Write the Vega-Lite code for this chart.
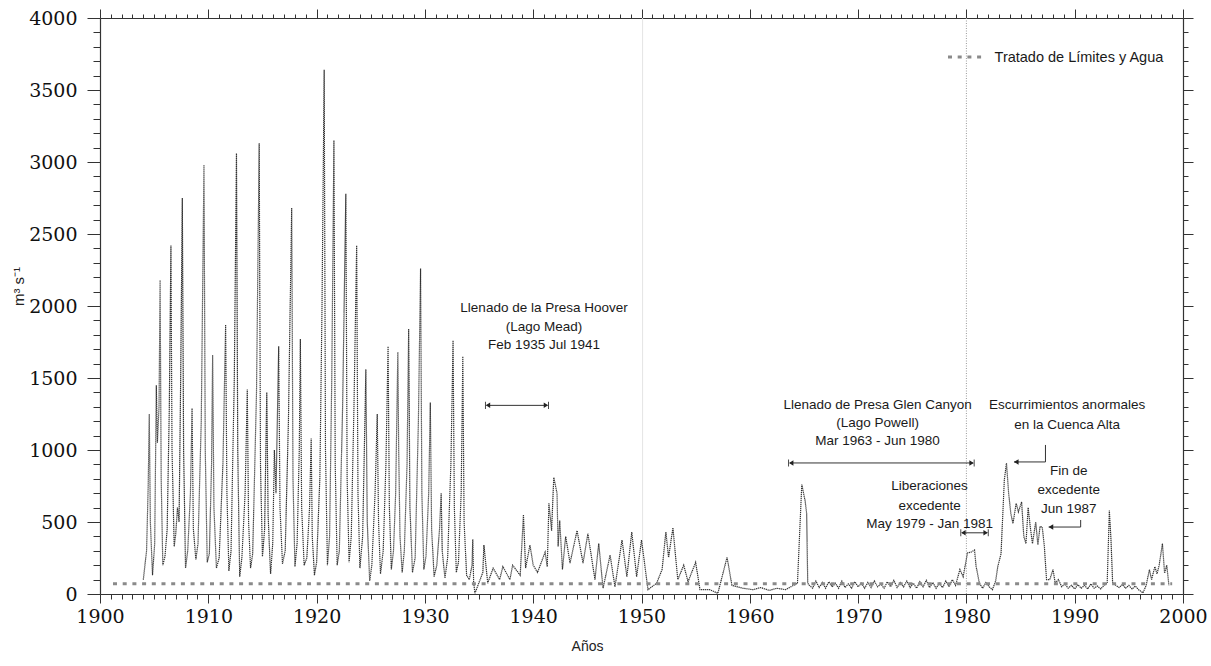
{
  "$schema": "https://vega.github.io/schema/vega-lite/v6.json",
  "width": 1083,
  "height": 576,
  "autosize": "none",
  "padding": {"left": 100, "top": 18, "right": 28, "bottom": 72},
  "background": "white",
  "config": {"view": {"stroke": null}, "axis": {"grid": false, "domainColor": "#333", "tickColor": "#333", "labelColor": "#111", "tickWidth": 1, "domainWidth": 1.2}},
  "datasets": {
    "flow": [
      {"t":1904.00,"q":100},{"t":1904.30,"q":300},{"t":1904.45,"q":750},{"t":1904.55,"q":1250},{"t":1904.65,"q":500},{"t":1904.85,"q":130},
      {"t":1905.05,"q":350},{"t":1905.20,"q":1450},{"t":1905.30,"q":1050},{"t":1905.45,"q":1300},{"t":1905.55,"q":2180},{"t":1905.65,"q":800},{"t":1905.80,"q":200},
      {"t":1906.00,"q":260},{"t":1906.20,"q":450},{"t":1906.40,"q":1300},{"t":1906.55,"q":2420},{"t":1906.65,"q":1000},{"t":1906.85,"q":330},
      {"t":1907.00,"q":420},{"t":1907.15,"q":600},{"t":1907.30,"q":500},{"t":1907.45,"q":1500},{"t":1907.60,"q":2750},{"t":1907.72,"q":1000},{"t":1907.90,"q":180},
      {"t":1908.10,"q":300},{"t":1908.35,"q":700},{"t":1908.50,"q":1290},{"t":1908.62,"q":450},{"t":1908.85,"q":240},
      {"t":1909.05,"q":350},{"t":1909.35,"q":1200},{"t":1909.60,"q":2980},{"t":1909.72,"q":1000},{"t":1909.90,"q":220},
      {"t":1910.10,"q":280},{"t":1910.30,"q":900},{"t":1910.40,"q":1660},{"t":1910.52,"q":600},{"t":1910.75,"q":180},
      {"t":1911.00,"q":250},{"t":1911.35,"q":900},{"t":1911.60,"q":1870},{"t":1911.72,"q":700},{"t":1911.90,"q":160},
      {"t":1912.10,"q":300},{"t":1912.40,"q":1500},{"t":1912.60,"q":3060},{"t":1912.72,"q":1000},{"t":1912.90,"q":120},
      {"t":1913.10,"q":250},{"t":1913.40,"q":700},{"t":1913.60,"q":1420},{"t":1913.72,"q":500},{"t":1913.90,"q":180},
      {"t":1914.10,"q":280},{"t":1914.45,"q":1400},{"t":1914.70,"q":3130},{"t":1914.82,"q":900},{"t":1915.00,"q":260},
      {"t":1915.20,"q":450},{"t":1915.40,"q":1400},{"t":1915.52,"q":550},{"t":1915.75,"q":140},
      {"t":1915.95,"q":350},{"t":1916.10,"q":1000},{"t":1916.25,"q":700},{"t":1916.50,"q":1720},{"t":1916.62,"q":600},{"t":1916.85,"q":210},
      {"t":1917.10,"q":300},{"t":1917.40,"q":1200},{"t":1917.70,"q":2680},{"t":1917.82,"q":800},{"t":1918.00,"q":190},
      {"t":1918.20,"q":350},{"t":1918.40,"q":1000},{"t":1918.50,"q":1770},{"t":1918.62,"q":600},{"t":1918.85,"q":200},
      {"t":1919.10,"q":250},{"t":1919.35,"q":600},{"t":1919.50,"q":1080},{"t":1919.60,"q":400},{"t":1919.80,"q":130},
      {"t":1920.00,"q":220},{"t":1920.30,"q":800},{"t":1920.50,"q":2000},{"t":1920.70,"q":3640},{"t":1920.82,"q":1000},{"t":1921.00,"q":200},
      {"t":1921.20,"q":400},{"t":1921.40,"q":1500},{"t":1921.60,"q":3150},{"t":1921.72,"q":900},{"t":1921.90,"q":200},
      {"t":1922.10,"q":300},{"t":1922.40,"q":1300},{"t":1922.70,"q":2780},{"t":1922.82,"q":800},{"t":1923.00,"q":220},
      {"t":1923.20,"q":400},{"t":1923.45,"q":1300},{"t":1923.70,"q":2420},{"t":1923.82,"q":700},{"t":1924.00,"q":180},
      {"t":1924.25,"q":400},{"t":1924.55,"q":1560},{"t":1924.68,"q":500},{"t":1924.90,"q":90},
      {"t":1925.10,"q":200},{"t":1925.40,"q":700},{"t":1925.60,"q":1250},{"t":1925.72,"q":500},{"t":1925.90,"q":140},
      {"t":1926.15,"q":300},{"t":1926.40,"q":900},{"t":1926.60,"q":1720},{"t":1926.72,"q":600},{"t":1926.90,"q":170},
      {"t":1927.10,"q":300},{"t":1927.30,"q":700},{"t":1927.50,"q":1680},{"t":1927.58,"q":1000},{"t":1927.70,"q":400},{"t":1927.90,"q":150},
      {"t":1928.10,"q":300},{"t":1928.35,"q":900},{"t":1928.50,"q":1840},{"t":1928.62,"q":600},{"t":1928.85,"q":150},
      {"t":1929.10,"q":250},{"t":1929.40,"q":1200},{"t":1929.60,"q":2260},{"t":1929.72,"q":700},{"t":1929.90,"q":170},
      {"t":1930.10,"q":260},{"t":1930.35,"q":700},{"t":1930.50,"q":1330},{"t":1930.62,"q":450},{"t":1930.85,"q":120},
      {"t":1931.10,"q":200},{"t":1931.35,"q":450},{"t":1931.50,"q":700},{"t":1931.60,"q":300},{"t":1931.85,"q":110},
      {"t":1932.10,"q":250},{"t":1932.40,"q":900},{"t":1932.60,"q":1760},{"t":1932.72,"q":600},{"t":1932.90,"q":150},
      {"t":1933.10,"q":220},{"t":1933.35,"q":700},{"t":1933.50,"q":1650},{"t":1933.62,"q":500},{"t":1933.85,"q":130},
      {"t":1934.10,"q":100},{"t":1934.35,"q":200},{"t":1934.42,"q":380},{"t":1934.50,"q":80},{"t":1934.62,"q":5},
      {"t":1935.35,"q":150},{"t":1935.45,"q":340},{"t":1935.80,"q":75},{"t":1936.30,"q":180},{"t":1936.90,"q":100},
      {"t":1937.20,"q":190},{"t":1937.85,"q":100},{"t":1938.10,"q":200},{"t":1938.80,"q":130},{"t":1939.10,"q":550},
      {"t":1939.30,"q":180},{"t":1939.70,"q":340},{"t":1940.00,"q":200},{"t":1940.40,"q":150},{"t":1941.10,"q":290},
      {"t":1941.30,"q":190},{"t":1941.45,"q":630},{"t":1941.70,"q":440},{"t":1941.90,"q":810},{"t":1942.20,"q":700},
      {"t":1942.30,"q":330},{"t":1942.45,"q":510},{"t":1942.70,"q":170},{"t":1943.00,"q":400},{"t":1943.40,"q":215},
      {"t":1944.05,"q":440},{"t":1944.60,"q":215},{"t":1945.05,"q":420},{"t":1945.70,"q":100},{"t":1946.05,"q":350},
      {"t":1946.45,"q":40},{"t":1947.10,"q":270},{"t":1947.55,"q":50},{"t":1948.20,"q":375},{"t":1948.65,"q":120},
      {"t":1949.10,"q":430},{"t":1949.55,"q":120},{"t":1950.00,"q":375},{"t":1950.60,"q":30},{"t":1951.40,"q":75},
      {"t":1951.90,"q":170},{"t":1952.25,"q":430},{"t":1952.50,"q":255},{"t":1952.90,"q":460},{"t":1953.35,"q":100},
      {"t":1953.90,"q":200},{"t":1954.30,"q":85},{"t":1955.00,"q":220},{"t":1955.40,"q":30},{"t":1956.30,"q":30},
      {"t":1957.05,"q":5},{"t":1957.90,"q":255},{"t":1958.35,"q":60},{"t":1959.35,"q":40},{"t":1960.30,"q":30},
      {"t":1961.00,"q":45},{"t":1961.80,"q":25},{"t":1962.50,"q":40},{"t":1963.30,"q":30},{"t":1964.40,"q":75},
      {"t":1964.80,"q":760},{"t":1965.10,"q":650},{"t":1965.25,"q":560},{"t":1965.35,"q":75},
      {"t":1965.50,"q":60},{"t":1965.80,"q":40},{"t":1966.10,"q":90},{"t":1966.40,"q":45},{"t":1966.70,"q":80},{"t":1967.00,"q":40},
      {"t":1967.30,"q":85},{"t":1967.60,"q":50},{"t":1967.90,"q":75},{"t":1968.20,"q":40},{"t":1968.50,"q":90},{"t":1968.80,"q":45},
      {"t":1969.10,"q":70},{"t":1969.40,"q":40},{"t":1969.70,"q":85},{"t":1970.00,"q":50},{"t":1970.30,"q":75},{"t":1970.60,"q":40},
      {"t":1970.90,"q":80},{"t":1971.20,"q":45},{"t":1971.50,"q":90},{"t":1971.80,"q":50},{"t":1972.10,"q":70},{"t":1972.40,"q":40},
      {"t":1972.70,"q":85},{"t":1973.00,"q":50},{"t":1973.30,"q":95},{"t":1973.60,"q":45},{"t":1973.90,"q":80},{"t":1974.20,"q":50},
      {"t":1974.50,"q":90},{"t":1974.80,"q":45},{"t":1975.10,"q":75},{"t":1975.40,"q":40},{"t":1975.70,"q":85},{"t":1976.00,"q":50},
      {"t":1976.30,"q":95},{"t":1976.60,"q":45},{"t":1976.90,"q":80},{"t":1977.20,"q":40},{"t":1977.50,"q":75},{"t":1977.80,"q":45},
      {"t":1978.10,"q":90},{"t":1978.40,"q":50},{"t":1978.70,"q":100},{"t":1979.00,"q":60},{"t":1979.40,"q":170},{"t":1979.70,"q":120},
      {"t":1980.10,"q":285},{"t":1980.40,"q":290},{"t":1980.75,"q":305},{"t":1980.90,"q":190},{"t":1981.20,"q":75},{"t":1981.50,"q":40},
      {"t":1981.80,"q":80},{"t":1982.10,"q":50},{"t":1982.40,"q":30},{"t":1982.70,"q":90},{"t":1982.90,"q":190},{"t":1983.20,"q":280},
      {"t":1983.50,"q":790},{"t":1983.70,"q":910},{"t":1983.90,"q":700},{"t":1984.10,"q":560},{"t":1984.30,"q":490},{"t":1984.60,"q":630},
      {"t":1984.80,"q":570},{"t":1985.10,"q":640},{"t":1985.30,"q":400},{"t":1985.50,"q":350},{"t":1985.70,"q":600},{"t":1985.90,"q":465},
      {"t":1986.10,"q":350},{"t":1986.40,"q":500},{"t":1986.60,"q":340},{"t":1986.80,"q":470},{"t":1987.00,"q":465},{"t":1987.20,"q":330},
      {"t":1987.40,"q":100},{"t":1987.70,"q":100},{"t":1988.00,"q":170},{"t":1988.20,"q":75},{"t":1988.50,"q":100},{"t":1988.80,"q":50},
      {"t":1989.10,"q":70},{"t":1989.40,"q":40},{"t":1989.70,"q":60},{"t":1990.00,"q":35},{"t":1990.30,"q":65},{"t":1990.60,"q":40},
      {"t":1990.90,"q":60},{"t":1991.20,"q":35},{"t":1991.50,"q":70},{"t":1991.80,"q":40},{"t":1992.10,"q":55},{"t":1992.40,"q":35},
      {"t":1992.70,"q":60},{"t":1993.00,"q":75},{"t":1993.20,"q":580},{"t":1993.35,"q":375},{"t":1993.50,"q":80},{"t":1993.80,"q":60},
      {"t":1994.10,"q":45},{"t":1994.40,"q":65},{"t":1994.70,"q":40},{"t":1995.00,"q":60},{"t":1995.30,"q":35},{"t":1995.60,"q":55},
      {"t":1995.90,"q":30},{"t":1996.30,"q":8},{"t":1996.60,"q":60},{"t":1996.90,"q":170},{"t":1997.10,"q":100},{"t":1997.40,"q":190},
      {"t":1997.60,"q":140},{"t":1997.80,"q":200},{"t":1998.10,"q":350},{"t":1998.30,"q":145},{"t":1998.50,"q":200},{"t":1998.70,"q":60}
    ],
    "treaty": [{"t":1901.2,"q":72},{"t":1999.0,"q":72}],
    "legendLine": [{"t":1978.3,"q":3729},{"t":1981.7,"q":3729}],
    "vlines": [{"t":1980.0,"kind":"main"}],
    "vfaint": [{"t":1950.1}],
    "segs": [
      {"t":1935.7,"t2":1941.3,"q":1310,"q2":1310},
      {"t":1963.7,"t2":1980.6,"q":910,"q2":910},
      {"t":1979.6,"t2":1981.9,"q":425,"q2":425},
      {"t":1987.3,"t2":1987.3,"q":1035,"q2":917},
      {"t":1987.3,"t2":1984.4,"q":917,"q2":917},
      {"t":1990.55,"t2":1990.55,"q":514,"q2":465},
      {"t":1990.55,"t2":1987.6,"q":465,"q2":465}
    ],
    "heads": [
      {"t":1935.8,"q":1310,"dir":"left"},{"t":1941.2,"q":1310,"dir":"right"},
      {"t":1963.8,"q":910,"dir":"left"},{"t":1980.5,"q":910,"dir":"right"},
      {"t":1979.7,"q":425,"dir":"left"},{"t":1981.8,"q":425,"dir":"right"},
      {"t":1984.6,"q":917,"dir":"open"},{"t":1987.8,"q":465,"dir":"open"}
    ],
    "notes": [
      {"t":1941.0,"q":1986,"text":"Llenado de la Presa Hoover"},
      {"t":1941.0,"q":1854,"text":"(Lago  Mead)"},
      {"t":1941.0,"q":1729,"text":"Feb 1935 Jul 1941"},
      {"t":1971.8,"q":1312,"text":"Llenado de Presa  Glen Canyon"},
      {"t":1971.8,"q":1188,"text":"(Lago  Powell)"},
      {"t":1971.8,"q":1063,"text":"Mar 1963 - Jun 1980"},
      {"t":1989.3,"q":1312,"text":"Escurrimientos anormales"},
      {"t":1989.3,"q":1174,"text":"en la Cuenca Alta"},
      {"t":1976.6,"q":750,"text":"Liberaciones"},
      {"t":1976.6,"q":611,"text":"excedente"},
      {"t":1976.6,"q":486,"text":"May 1979 - Jan 1981"},
      {"t":1989.45,"q":854,"text":"Fin de"},
      {"t":1989.45,"q":722,"text":"excedente"},
      {"t":1989.45,"q":590,"text":"Jun 1987"}
    ],
    "legendText": [{"t":1982.6,"q":3722,"text":"Tratado de Límites y Agua"}]
  },
  "layer": [
    {
      "data": {"name": "vfaint"},
      "mark": {"type": "rule", "color": "#e4e4e4", "strokeWidth": 1},
      "encoding": {
        "x": {"field": "t", "type": "quantitative", "scale": {"domain": [1900, 2000], "nice": false, "zero": false}, "axis": null}
      }
    },
    {
      "data": {"name": "vlines"},
      "mark": {"type": "rule", "color": "#9a9a9a", "strokeWidth": 1, "strokeDash": [1, 1.5]},
      "encoding": {
        "x": {"field": "t", "type": "quantitative", "scale": {"domain": [1900, 2000], "nice": false, "zero": false}, "axis": null}
      }
    },
    {
      "data": {"name": "flow"},
      "mark": {"type": "line", "color": "#333333", "strokeWidth": 1.2, "strokeDash": [1.3, 0.7], "clip": true},
      "encoding": {
        "x": {"field": "t", "type": "quantitative", "scale": {"domain": [1900, 2000], "nice": false, "zero": false},
          "axis": {"orient": "bottom", "tickCount": 100, "format": "d",
            "labelExpr": "datum.value % 10 === 0 ? datum.label : ''",
            "tickSize": {"condition": {"test": "datum.value % 10 === 0", "value": 9}, "value": 5},
            "labelFont": "DejaVu Serif", "labelFontSize": 19, "labelPadding": 4, "labelOverlap": false, "labelFlush": false, "labelBound": false,
            "title": "Años", "titleFont": "Liberation Sans", "titleFontSize": 14, "titleFontWeight": "normal", "titleColor": "#222",
            "titleX": 487, "titleY": 52, "titleBaseline": "middle", "titleAlign": "center"}},
        "y": {"field": "q", "type": "quantitative", "scale": {"domain": [0, 4000], "nice": false},
          "axis": {"orient": "left", "tickCount": 40, "format": "d",
            "labelExpr": "datum.value % 500 === 0 ? datum.label : ''",
            "tickSize": {"condition": {"test": "datum.value % 500 === 0", "value": 13}, "value": 7},
            "labelFont": "DejaVu Serif", "labelFontSize": 19, "labelPadding": 10, "labelOverlap": false, "labelBound": false,
            "title": "m³ s⁻¹", "titleFont": "Liberation Sans", "titleFontSize": 15, "titleFontWeight": "normal", "titleColor": "#222",
            "titleX": -82, "titleY": 268, "titleAngle": -90, "titleBaseline": "middle", "titleAlign": "center"}}
      }
    },
    {
      "data": {"name": "treaty"},
      "mark": {"type": "line", "color": "#8a8a8a", "strokeWidth": 3, "strokeDash": [4, 5.7]},
      "encoding": {
        "x": {"field": "t", "type": "quantitative", "scale": {"domain": [1900, 2000], "nice": false, "zero": false},
          "axis": {"orient": "top", "tickCount": 100, "labels": false, "title": null,
            "tickSize": {"condition": {"test": "datum.value % 10 === 0", "value": 9}, "value": 4}}},
        "y": {"field": "q", "type": "quantitative", "scale": {"domain": [0, 4000], "nice": false},
          "axis": {"orient": "right", "tickCount": 40, "labels": false, "title": null,
            "tickSize": {"condition": {"test": "datum.value % 500 === 0", "value": 10}, "value": 5}}}
      }
    },
    {
      "data": {"name": "legendLine"},
      "mark": {"type": "line", "color": "#8a8a8a", "strokeWidth": 3, "strokeDash": [4, 5.7]},
      "encoding": {
        "x": {"field": "t", "type": "quantitative", "scale": {"domain": [1900, 2000], "nice": false, "zero": false}, "axis": null},
        "y": {"field": "q", "type": "quantitative", "scale": {"domain": [0, 4000], "nice": false}, "axis": null}
      }
    },
    {
      "data": {"name": "segs"},
      "mark": {"type": "rule", "color": "#333", "strokeWidth": 1},
      "encoding": {
        "x": {"field": "t", "type": "quantitative", "scale": {"domain": [1900, 2000], "nice": false, "zero": false}, "axis": null},
        "x2": {"field": "t2"},
        "y": {"field": "q", "type": "quantitative", "scale": {"domain": [0, 4000], "nice": false}, "axis": null},
        "y2": {"field": "q2"}
      }
    },
    {
      "data": {"name": "heads"},
      "mark": {"type": "point", "filled": true, "color": "#222", "size": 30, "opacity": 1},
      "encoding": {
        "x": {"field": "t", "type": "quantitative", "scale": {"domain": [1900, 2000], "nice": false, "zero": false}, "axis": null},
        "y": {"field": "q", "type": "quantitative", "scale": {"domain": [0, 4000], "nice": false}, "axis": null},
        "shape": {"field": "dir", "type": "nominal", "legend": null,
          "scale": {"domain": ["left", "right", "open"],
            "range": ["M-1,-1.3L-0.7,-1.3L-0.7,1.3L-1,1.3Z M-0.7,0L0.9,-1L0.9,1Z", "M1,-1.3L0.7,-1.3L0.7,1.3L1,1.3Z M0.7,0L-0.9,-1L-0.9,1Z", "triangle-left"]}}
      }
    },
    {
      "data": {"name": "notes"},
      "mark": {"type": "text", "font": "Liberation Sans", "fontSize": 13.5, "color": "#1a1a1a", "align": "center", "baseline": "middle"},
      "encoding": {
        "x": {"field": "t", "type": "quantitative", "scale": {"domain": [1900, 2000], "nice": false, "zero": false}, "axis": null},
        "y": {"field": "q", "type": "quantitative", "scale": {"domain": [0, 4000], "nice": false}, "axis": null},
        "text": {"field": "text"}
      }
    },
    {
      "data": {"name": "legendText"},
      "mark": {"type": "text", "font": "Liberation Sans", "fontSize": 14.5, "color": "#1a1a1a", "align": "left", "baseline": "middle"},
      "encoding": {
        "x": {"field": "t", "type": "quantitative", "scale": {"domain": [1900, 2000], "nice": false, "zero": false}, "axis": null},
        "y": {"field": "q", "type": "quantitative", "scale": {"domain": [0, 4000], "nice": false}, "axis": null},
        "text": {"field": "text"}
      }
    }
  ],
  "resolve": {"axis": {"x": "independent", "y": "independent"}}
}
